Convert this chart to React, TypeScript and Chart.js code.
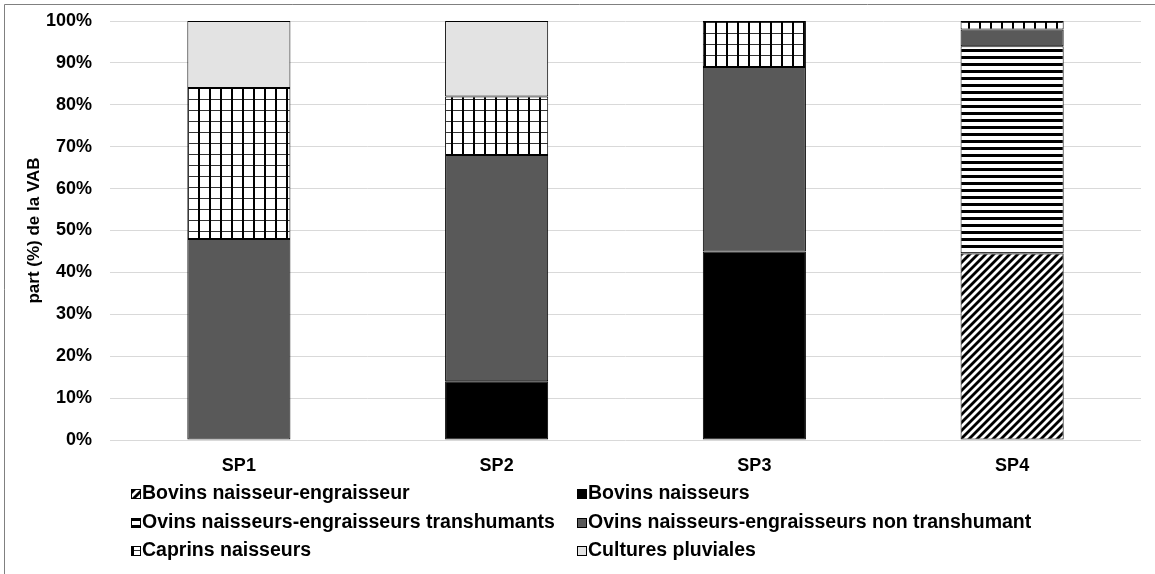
import React, { useEffect, useRef } from "react";
import { Chart, registerables } from "chart.js";

Chart.register(...registerables);

const categories = ["SP1", "SP2", "SP3", "SP4"];
const seriesNames = [
  "Bovins naisseur-engraisseur",
  "Bovins naisseurs",
  "Ovins naisseurs-engraisseurs transhumants",
  "Ovins naisseurs-engraisseurs non transhumant",
  "Caprins naisseurs",
  "Cultures pluviales",
];
const bovinsNaisseurEngraisseur = [null, null, null, 44.5];
const bovinsNaisseurs = [null, 14, 45, null];
const ovinsTranshumants = [null, null, null, 49.5];
const ovinsNonTranshumant = [48, 54, 44, 4];
const caprinsNaisseurs = [36, 14, 11, 2];
const culturesPluviales = [16, 18, null, null];
const yTicks = [0, 10, 20, 30, 40, 50, 60, 70, 80, 90, 100];

const FONT = "'Liberation Sans', Arial, sans-serif";

function makePattern(kind: string): CanvasPattern | string {
  const c = document.createElement("canvas");
  const ctx = c.getContext("2d")!;
  if (kind === "diag") {
    c.width = 8; c.height = 8;
    ctx.fillStyle = "#fff"; ctx.fillRect(0, 0, 8, 8);
    ctx.strokeStyle = "#000"; ctx.lineWidth = 2.8;
    for (const o of [-8, 0, 8]) {
      ctx.beginPath(); ctx.moveTo(o - 1, 9); ctx.lineTo(o + 9, -1); ctx.stroke();
    }
  } else if (kind === "hstripe") {
    c.width = 7; c.height = 7;
    ctx.fillStyle = "#fff"; ctx.fillRect(0, 0, 7, 7);
    ctx.fillStyle = "#000"; ctx.fillRect(0, 0, 7, 3);
  } else if (kind === "grid") {
    c.width = 11; c.height = 11;
    ctx.fillStyle = "#fff"; ctx.fillRect(0, 0, 11, 11);
    ctx.fillStyle = "#333"; ctx.fillRect(0, 0, 11, 1);
    ctx.fillStyle = "#000"; ctx.fillRect(0, 0, 2, 11);
  }
  return ctx.createPattern(c, "repeat")!;
}

export default function App() {
  const ref = useRef<HTMLCanvasElement>(null);
  useEffect(() => {
    const fills = [
      makePattern("diag"),
      "#000000",
      makePattern("hstripe"),
      "#595959",
      makePattern("grid"),
      "#e3e3e3",
    ];
    const series = [
      bovinsNaisseurEngraisseur,
      bovinsNaisseurs,
      ovinsTranshumants,
      ovinsNonTranshumant,
      caprinsNaisseurs,
      culturesPluviales,
    ];
    const legendPlugin = {
      id: "customLegend",
      afterDraw(chart: any) {
        const ctx = chart.ctx;
        ctx.save();
        const colX = [131, 577];
        const rowY = [494, 523, 551];
        seriesNames.forEach((name, i) => {
          const x = colX[i % 2];
          const y = rowY[Math.floor(i / 2)];
          ctx.fillStyle = fills[i];
          ctx.fillRect(x, y - 5, 9, 9);
          ctx.strokeStyle = "#000";
          ctx.lineWidth = 1;
          ctx.strokeRect(x + 0.5, y - 4.5, 9, 9);
          ctx.fillStyle = "#000";
          ctx.font = `bold 19.5px ${FONT}`;
          ctx.textBaseline = "middle";
          ctx.textAlign = "left";
          ctx.fillText(name, x + 11, y);
        });
        ctx.restore();
      },
      beforeDraw(chart: any) {
        const ctx = chart.ctx;
        ctx.save();
        ctx.fillStyle = "#fff";
        ctx.fillRect(0, 0, chart.width, chart.height);
        ctx.strokeStyle = "#808080";
        ctx.lineWidth = 1;
        ctx.beginPath();
        ctx.moveTo(4.5, chart.height);
        ctx.lineTo(4.5, 4.5);
        ctx.lineTo(chart.width, 4.5);
        ctx.stroke();
        ctx.restore();
      },
    };
    const chart = new Chart(ref.current!, {
      type: "bar",
      data: {
        labels: categories,
        datasets: series.map((d, i) => ({
          label: seriesNames[i],
          data: d as any,
          backgroundColor: fills[i] as any,
          borderColor: "#000",
          borderWidth: 1,
          borderSkipped: false,
          categoryPercentage: 0.4,
          barPercentage: 1,
        })),
      },
      options: {
        animation: false,
        responsive: false,
        devicePixelRatio: 1,
        layout: { padding: { top: 21, right: 14, bottom: 0, left: 0 } },
        plugins: { legend: { display: false }, tooltip: { enabled: false } },
        scales: {
          x: {
            stacked: true,
            grid: { display: false },
            border: { display: false },
            ticks: { color: "#000", font: { family: FONT, size: 18, weight: "bold" }, padding: 7 },
            afterFit: (s: any) => {
              s.height = 134;
              s.paddingLeft = 0; s.paddingRight = 0; s.paddingTop = 0; s.paddingBottom = 0;
            },
          },
          y: {
            stacked: true,
            min: 0,
            max: 100,
            afterBuildTicks: (s: any) => { s.ticks = yTicks.map((v) => ({ value: v })); },
            grid: { color: "#d9d9d9", drawTicks: false },
            border: { display: false },
            ticks: {
              color: "#000",
              font: { family: FONT, size: 18, weight: "bold" },
              padding: 18,
              callback: (v: any) => v + "%",
            },
            title: {
              display: true,
              text: "part (%) de la VAB",
              color: "#000",
              font: { family: FONT, size: 17, weight: "bold" },
              padding: { top: 24, bottom: 0 },
            },
            afterFit: (s: any) => {
              s.width = 110;
              s.paddingLeft = 0; s.paddingRight = 0; s.paddingTop = 0; s.paddingBottom = 0;
            },
          },
        },
      },
      plugins: [legendPlugin],
    });
    return () => chart.destroy();
  }, []);
  return (
    <div style={{ position: "fixed", left: 0, top: 0, width: 1155, height: 574 }}>
      <canvas ref={ref} width={1155} height={574} style={{ display: "block" }} />
    </div>
  );
}
